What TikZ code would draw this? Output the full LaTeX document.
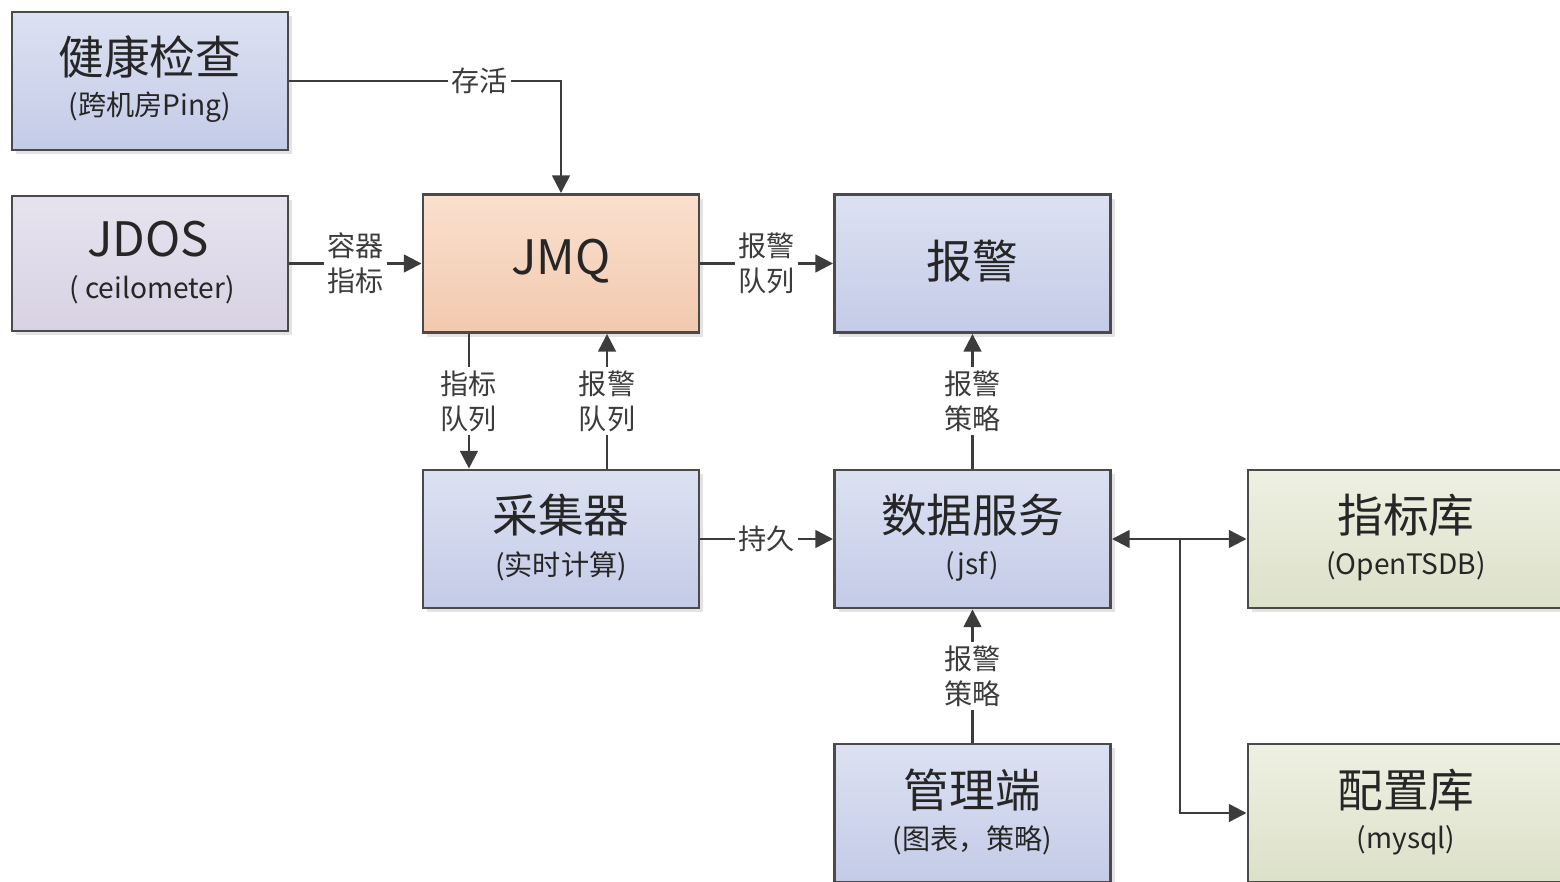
\documentclass[tikz,border=0pt]{standalone}
\usepackage{fontspec}
\setmainfont{Noto Sans CJK SC}
\usetikzlibrary{arrows.meta,shadows}
\definecolor{bdr}{HTML}{4A4A4A}
\definecolor{ln}{HTML}{3C3C3C}
\definecolor{txt}{HTML}{262626}
\definecolor{bluet}{HTML}{DCE1F2}
\definecolor{blueb}{HTML}{C4CBE7}
\definecolor{jmqt}{HTML}{FAE0CE}
\definecolor{jmqb}{HTML}{F2C9AE}
\definecolor{jdost}{HTML}{E6E3EE}
\definecolor{jdosb}{HTML}{D8D2E4}
\definecolor{grnt}{HTML}{EEF0E2}
\definecolor{grnb}{HTML}{DCE1C9}
\tikzset{
  box/.style={draw=bdr, line width=0.8pt, minimum width=2.76cm, minimum height=1.38cm,
    top color=bluet, bottom color=blueb,
    drop shadow={shadow xshift=1.2pt, shadow yshift=-1.2pt, opacity=0.22}},
  jmqbox/.style={box, top color=jmqt, bottom color=jmqb},
  jdosbox/.style={box, top color=jdost, bottom color=jdosb, minimum height=1.35cm},
  grnbox/.style={box, top color=grnt, bottom color=grnb, minimum width=3.16cm},
  ttl/.style={text=txt, font=\fontsize{13}{15}\selectfont, inner sep=0pt},
  lttl/.style={text=txt, font=\fontsize{13.5}{16}\selectfont, inner sep=0pt},
  sub/.style={text=txt, font=\fontsize{8}{10}\selectfont, inner sep=0pt},
  lbl/.style={fill=white, text=ln, font=\fontsize{8}{10}\selectfont, align=center, inner sep=1pt},
  conn/.style={draw=ln, line width=0.7pt, -{Triangle[length=5pt,width=5pt]}},
  conn2/.style={draw=ln, line width=0.7pt, {Triangle[length=5pt,width=5pt]}-{Triangle[length=5pt,width=5pt]}},
}
\begin{document}
\begin{tikzpicture}[x=0.01cm,y=-0.01cm]
\useasboundingbox (0,0) rectangle (1560,882);
\clip (0,0) rectangle (1560,882);
\fill[white] (0,0) rectangle (1560,882);
% boxes
\node[box] (hc) at (150,81) {};
\node[jdosbox] (jdos) at (150,263.5) {};
\node[jmqbox] (jmq) at (561,263.5) {};
\node[box] (alarm) at (972.5,263.5) {};
\node[box] (coll) at (561,539) {};
\node[box] (data) at (972.5,539) {};
\node[grnbox] (metric) at (1406,539) {};
\node[box] (mgmt) at (972.5,813) {};
\node[grnbox] (config) at (1406,813) {};
% texts
\node[ttl] (hct) at (150,57) {健康检查};
\node[sub] (hcs) at (150,107) {(跨机房Ping)};
\node[lttl] (jdost) at (148,239) {JDOS};
\node[sub] (jdoss) at (152,290) {( ceilometer)};
\node[lttl] (jmqt) at (561,261) {JMQ};
\node[ttl] (alarmt) at (972.5,261) {报警};
\node[ttl] (collt) at (561,515) {采集器};
\node[sub] (colls) at (561,566) {(实时计算)};
\node[ttl] (datat) at (972.5,515) {数据服务};
\node[sub] (datas) at (972.5,566) {(jsf)};
\node[ttl] (metrict) at (1406,515) {指标库};
\node[sub] (metrics) at (1406,566) {(OpenTSDB)};
\node[ttl] (mgmtt) at (972.5,790) {管理端};
\node[sub] (mgmts) at (972.5,840) {(图表，策略)};
\node[ttl] (configt) at (1406,790) {配置库};
\node[sub] (configs) at (1406,840) {(mysql)};
% connectors
\draw[conn] (hc.east) -| node[lbl, pos=0.35] {存活} (jmq.north);
\draw[conn] (jdos) -- node[lbl] {容器\\指标} (jmq);
\draw[conn] (jmq) -- node[lbl] {报警\\队列} (alarm);
\draw[conn] ([xshift=-0.92cm]jmq.south) -- node[lbl] {指标\\队列} ([xshift=-0.92cm]coll.north);
\draw[conn] ([xshift=0.46cm]coll.north) -- node[lbl] {报警\\队列} ([xshift=0.46cm]jmq.south);
\draw[conn] (coll) -- node[lbl] {持久} (data);
\draw[conn] (data) -- node[lbl] {报警\\策略} (alarm);
\draw[conn] (mgmt) -- node[lbl] {报警\\策略} (data);
\draw[conn2] (data.east) -- (metric.west);
\coordinate (br) at (1180,539);
\draw[conn] (br) |- (config.west);
\end{tikzpicture}
\end{document}
